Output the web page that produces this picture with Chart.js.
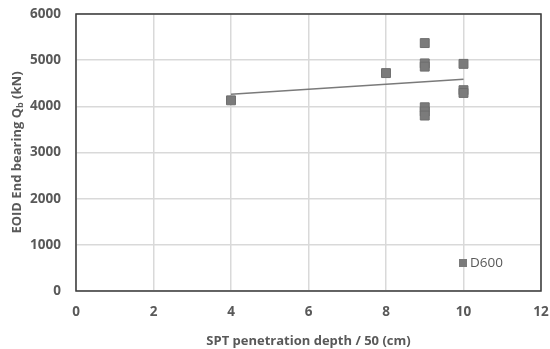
<!DOCTYPE html>
<html>
<head>
<meta charset="utf-8">
<script src="https://cdn.jsdelivr.net/npm/chart.js@4/dist/chart.umd.min.js"></script>
<style>
html,body{margin:0;padding:0;background:#fff;}
#wrap{width:550px;height:349px;position:relative;}
</style>
</head>
<body>
<div id="wrap"><canvas id="c" width="550" height="349"></canvas></div>
<script>
// Data
const sptDepth = [4, 8, 9, 9, 9, 9, 9, 9, 10, 10, 10];
const endBearing = [4130, 4720, 5370, 4930, 4860, 3980, 3890, 3800, 4920, 4350, 4290];
const trendX = [4, 10];
const trendY = [4260, 4585];
const seriesName = 'D600';
const xTicks = [0, 2, 4, 6, 8, 10, 12];
const yTicks = [0, 1000, 2000, 3000, 4000, 5000, 6000];

const TEXT = '#595959';
const FONT = "'Open Sans', 'DejaVu Sans', sans-serif";

const boxPlugin = {
  id: 'box',
  afterDatasetsDraw(chart) {
    const a = chart.chartArea, ctx = chart.ctx;
    ctx.save();
    ctx.strokeStyle = '#3a3a3a';
    ctx.lineWidth = 1.5;
    ctx.strokeRect(a.left, a.top, a.right - a.left, a.bottom - a.top);
    ctx.restore();
  }
};

const yTitlePlugin = {
  id: 'ytitle',
  afterDraw(chart) {
    const a = chart.chartArea, ctx = chart.ctx;
    const parts = [
      {t: 'EOID End bearing Q', f: "bold 13px " + FONT, dy: 0},
      {t: 'b', f: "bold 9px " + FONT, dy: 3},
      {t: ' (kN)', f: "bold 13px " + FONT, dy: 0}
    ];
    ctx.save();
    let total = 0;
    parts.forEach(p => { ctx.font = p.f; p.w = ctx.measureText(p.t).width; total += p.w; });
    ctx.translate(17, (a.top + a.bottom) / 2);
    ctx.rotate(-Math.PI / 2);
    ctx.fillStyle = TEXT;
    ctx.textBaseline = 'middle';
    ctx.textAlign = 'left';
    let x = -total / 2;
    parts.forEach(p => { ctx.font = p.f; ctx.fillText(p.t, x, p.dy); x += p.w; });
    ctx.restore();
  }
};

const legendPlugin = {
  id: 'inlegend',
  afterDraw(chart) {
    const a = chart.chartArea, ctx = chart.ctx;
    const ds = chart.data.datasets[0];
    const x0 = a.right - 82, y0 = a.bottom - 28;
    ctx.save();
    ctx.fillStyle = ds.backgroundColor;
    ctx.fillRect(x0, y0 - 4, 8, 8);
    ctx.fillStyle = TEXT;
    ctx.font = "13.5px " + FONT;
    ctx.textBaseline = 'middle';
    ctx.fillText(ds.label, x0 + 11, y0 + 0.5);
    ctx.restore();
  }
};

new Chart(document.getElementById('c'), {
  type: 'scatter',
  data: {
    datasets: [
      {
        label: seriesName,
        data: sptDepth.map((x, i) => ({x: x, y: endBearing[i]})),
        pointStyle: 'rect',
        pointRadius: 6.3,
        pointHoverRadius: 6.3,
        backgroundColor: '#7b7b7b',
        borderColor: '#6e6e6e',
        borderWidth: 1
      },
      {
        label: 'Linear (D600)',
        data: trendX.map((x, i) => ({x: x, y: trendY[i]})),
        showLine: true,
        pointRadius: 0,
        borderColor: '#7a7a7a',
        borderWidth: 1.5,
        fill: false
      }
    ]
  },
  options: {
    responsive: false,
    animation: false,
    layout: {autoPadding: false, padding: {top: 14, right: 9, left: 0, bottom: 0}},
    plugins: {legend: {display: false}, tooltip: {enabled: false}},
    scales: {
      x: {
        type: 'linear',
        min: 0, max: 12,
        afterBuildTicks(s) { s.ticks = xTicks.map(v => ({value: v})); },
        afterFit(s) { s.height = 58; s.paddingLeft = 0; s.paddingRight = 0; },
        grid: {color: '#d9d9d9', lineWidth: 1.5, drawTicks: false},
        border: {display: false},
        ticks: {color: TEXT, font: {family: FONT, size: 13.5, weight: 'bold'}, padding: 13, maxRotation: 0,
                callback: v => String(v)},
        title: {display: true, text: 'SPT penetration depth / 50 (cm)', color: TEXT,
                font: {family: FONT, size: 13, weight: 'bold'}, padding: {top: 2, bottom: 0}}
      },
      y: {
        type: 'linear',
        min: 0, max: 6000,
        afterBuildTicks(s) { s.ticks = yTicks.map(v => ({value: v})); },
        afterFit(s) { s.width = 76; s.paddingTop = 0; s.paddingBottom = 0; },
        grid: {color: '#d9d9d9', lineWidth: 1.5, drawTicks: false},
        border: {display: false},
        ticks: {color: TEXT, font: {family: FONT, size: 13.5, weight: 'bold'}, padding: 15,
                callback: v => String(v)}
      }
    }
  },
  plugins: [boxPlugin, yTitlePlugin, legendPlugin]
});
</script>
</body>
</html>
